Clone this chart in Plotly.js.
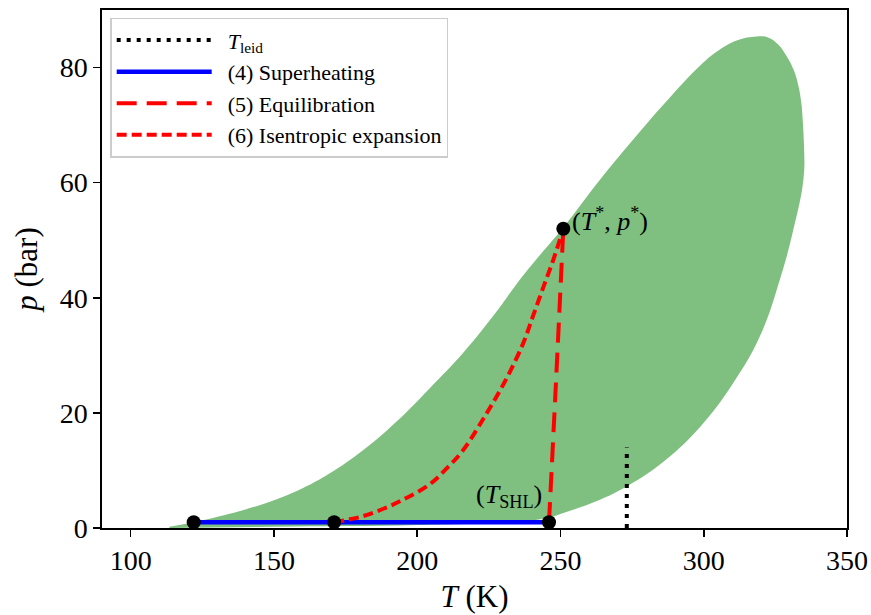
<!DOCTYPE html>
<html>
<head>
<meta charset="utf-8">
<script src="https://cdn.plot.ly/plotly-3.0.1.min.js"></script>
<style>html,body{margin:0;padding:0;background:#fff;}#chart{width:871px;height:615px;}</style>
</head>
<body>
<div id="chart"></div>
<script>
// Metastable region: upper (left) boundary from low T up to the top, and lower (right) boundary
const upperT = [113.5, 121, 130, 140, 151, 160, 169.5, 181.1, 192.8, 204.4, 216, 227.7, 234.7, 243, 251, 263.8, 275.4, 287.1, 298.7, 305, 311.5, 318.5, 322.6, 326, 328.4, 331.3, 333.2, 334.2];
const upperP = [0.2, 0.9, 1.9, 3.2, 5.0, 6.9, 9.5, 13.5, 18.5, 24.3, 30.4, 37.6, 42.4, 47.5, 52.2, 60.5, 67.5, 74.2, 80.3, 82.9, 84.7, 85.4, 85.2, 84.0, 82.4, 79.7, 76.5, 73.3];
const lowerT = [113.5, 150, 200, 230, 246, 251, 263.8, 275.4, 287.1, 298.8, 310.3, 319.6, 326.6, 331.3, 334.8, 335.0, 334.2];
const lowerP = [0.0, 0.2, 0.5, 1.0, 1.8, 2.6, 4.9, 7.9, 12.0, 17.6, 25.2, 33.3, 43.2, 51.9, 60.6, 66.5, 73.3];

const tLeidT = [273.15, 273.15];
const tLeidP = [0, 14];

const superT = [122, 246];
const superP = [1.0, 1.0];

const equilT = [246, 248.4, 251];
const equilP = [1.0, 25, 52];

const isenT = [171, 180, 188, 195, 204.4, 210.2, 216, 224.2, 231.2, 237, 240.4, 244, 247.5, 251];
const isenP = [1.0, 1.9, 3.3, 4.9, 7.6, 10.3, 13.5, 19.9, 26.0, 32.1, 36.8, 41.8, 46.6, 52];

const dotT = [122, 171, 246, 251];
const dotP = [1.0, 1.0, 1.0, 52];

const legendNames = ['<i>T</i><sub>leid</sub>', '(4) Superheating', '(5) Equilibration', '(6) Isentropic expansion'];

const regionT = upperT.concat(lowerT.slice().reverse());
const regionP = upperP.concat(lowerP.slice().reverse());

const FONT = 'Liberation Serif, DejaVu Serif, serif';
const GAP = '\u2002';

const traces = [
  {x: regionT, y: regionP, type: 'scatter', mode: 'lines', fill: 'toself',
   fillcolor: 'rgba(0,128,0,0.5)', line: {width: 0, color: 'rgba(0,0,0,0)', shape: 'spline', smoothing: 1.2},
   showlegend: false, hoverinfo: 'skip'},
  {x: tLeidT, y: tLeidP, type: 'scatter', mode: 'lines', name: GAP + legendNames[0],
   line: {color: '#000', width: 4, dash: '4px,6px'}},
  {x: superT, y: superP, type: 'scatter', mode: 'lines', name: GAP + legendNames[1],
   line: {color: '#0000ff', width: 4.5}},
  {x: equilT, y: equilP, type: 'scatter', mode: 'lines', name: GAP + legendNames[2],
   line: {color: '#ff0000', width: 4, dash: '20px,10px', shape: 'spline'}},
  {x: isenT, y: isenP, type: 'scatter', mode: 'lines', name: GAP + legendNames[3],
   line: {color: '#ff0000', width: 4, dash: '10px,5px', shape: 'spline', smoothing: 1}},
  {x: dotT, y: dotP, type: 'scatter', mode: 'markers', showlegend: false,
   marker: {color: '#000', size: 14}}
];

const axisCommon = {
  showgrid: false, zeroline: false, showline: true, mirror: true,
  linecolor: '#000', linewidth: 1.6, ticks: 'outside', ticklen: 7, tickwidth: 1.6,
  tickcolor: '#000', tickfont: {family: FONT, size: 28, color: '#000'}
};

const layout = {
  width: 871, height: 615,
  margin: {l: 102, r: 24, t: 10, b: 87, pad: 0},
  paper_bgcolor: '#fff', plot_bgcolor: '#fff',
  font: {family: FONT, color: '#000'},
  xaxis: Object.assign({}, axisCommon, {
    range: [90, 350], tickvals: [100, 150, 200, 250, 300, 350],
    title: {text: '<i>T</i> (K)', font: {family: FONT, size: 31}, standoff: 10}
  }),
  yaxis: Object.assign({}, axisCommon, {
    range: [0, 90], tickvals: [0, 20, 40, 60, 80],
    title: {text: '<i>p</i> (bar)', font: {family: FONT, size: 31}, standoff: 13}
  }),
  legend: {
    x: 0.011, y: 0.985, xanchor: 'left', yanchor: 'top',
    bgcolor: 'rgba(255,255,255,0.8)', bordercolor: '#cccccc', borderwidth: 1.5,
    font: {family: FONT, size: 22, color: '#000'}, itemwidth: 95, tracegroupgap: 0
  },
  annotations: [
    {x: 253.5, y: 53.6, xref: 'x', yref: 'y', text: '(<i>T</i><sup>*</sup>, <i>p</i><sup>*</sup>)',
     showarrow: false, xanchor: 'left', yanchor: 'middle', font: {family: FONT, size: 26, color: '#000'}},
    {x: 244.2, y: 5.6, xref: 'x', yref: 'y', text: '(<i>T</i><sub>SHL</sub>)',
     showarrow: false, xanchor: 'right', yanchor: 'middle', font: {family: FONT, size: 26, color: '#000'}}
  ],
  showlegend: true
};

Plotly.newPlot('chart', traces, layout, {displayModeBar: false, staticPlot: true});
</script>
</body>
</html>
